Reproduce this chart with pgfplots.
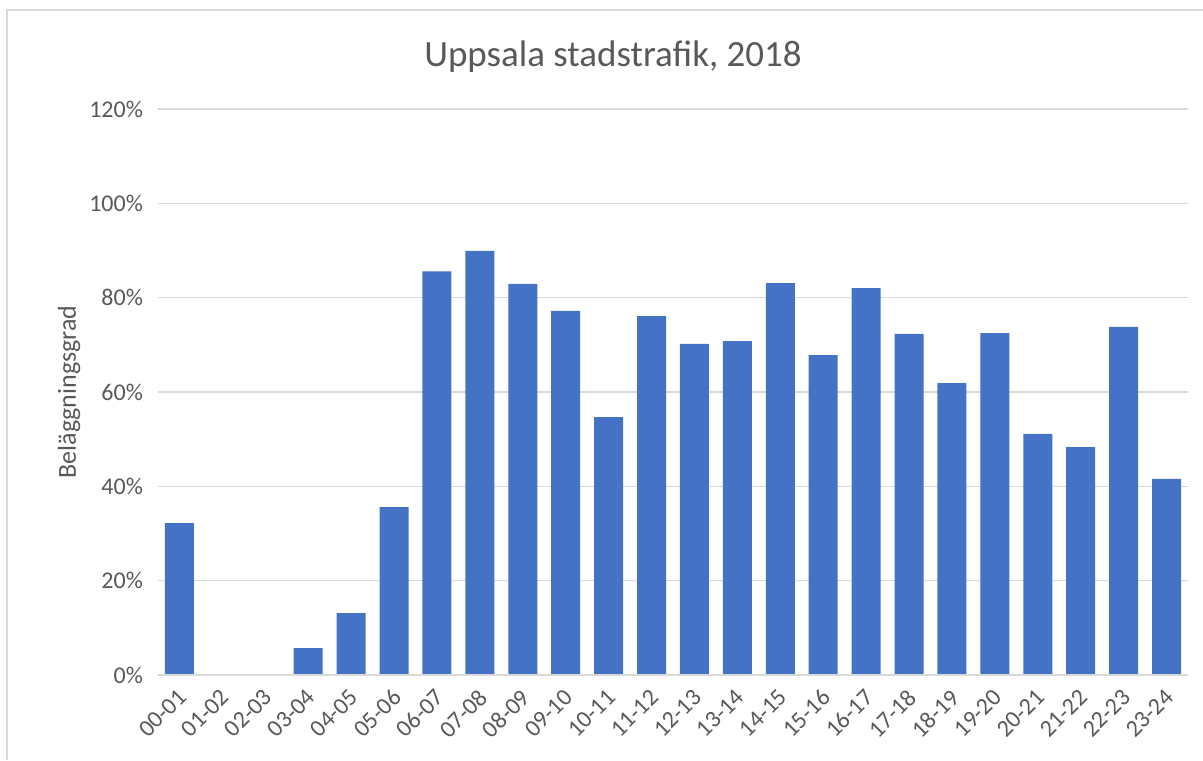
\documentclass[border=0pt]{standalone}
\usepackage{pgfplots}
\pgfplotsset{compat=1.18}
\usepackage{fontspec}
\setmainfont{Carlito}
\definecolor{barblue}{HTML}{4472C4}
\definecolor{gridgray}{HTML}{D9D9D9}
\definecolor{txtgray}{HTML}{595959}
\pgfplotstableread{
x y
0 32.2
1 0
2 0
3 5.7
4 13.1
5 35.6
6 85.6
7 89.9
8 82.9
9 77.2
10 54.7
11 76.1
12 70.2
13 70.8
14 83.1
15 67.8
16 82.0
17 72.3
18 61.9
19 72.5
20 51.1
21 48.3
22 73.8
23 41.6
}\datatable
\begin{document}
\begin{tikzpicture}
\path[use as bounding box] (-79pt,-42.5pt) rectangle (522.5pt,337.5pt);
\draw[gridgray, line width=1pt] (-75.5pt,-42.5pt) -- (-75.5pt,332.5pt) -- (522.5pt,332.5pt);
\node[txtgray, font=\fontsize{18.5}{22}\selectfont] at (227.5pt,309pt) {Uppsala stadstrafik, 2018};
\begin{axis}[
  at={(0pt,0pt)}, anchor=south west,
  scale only axis, width=515pt, height=283pt,
  xmin=-0.5, xmax=23.5, ymin=0, ymax=120,
  ytick={0,20,...,120},
  yticklabel={\pgfmathprintnumber{\tick}\%},
  xtick={0,...,23},
  xticklabels={00-01,01-02,02-03,03-04,04-05,05-06,06-07,07-08,08-09,09-10,10-11,11-12,12-13,13-14,14-15,15-16,16-17,17-18,18-19,19-20,20-21,21-22,22-23,23-24},
  major tick length=0pt,
  axis line style={draw=none},
  ymajorgrids, grid style={gridgray, line width=0.75pt},
  /pgf/number format/assume math mode=true,
  tick label style={txtgray, font=\fontsize{12}{14}\selectfont},
  yticklabel style={anchor=east, xshift=-4pt},
  xticklabel style={rotate=45, anchor=north east, xshift=-2pt},
  ylabel={Beläggningsgrad},
  ylabel style={txtgray, font=\fontsize{13}{15}\selectfont, at={(axis description cs:-0.0864,0.5)}, anchor=center},
  ybar, bar width=14.5pt,
  clip=false,
]
\addplot[fill=barblue, draw=none] table[x=x,y=y] {\datatable};
\draw[gridgray, line width=0.75pt] (axis cs:-0.5,0) -- (axis cs:23.5,0);
\end{axis}
\end{tikzpicture}
\end{document}
